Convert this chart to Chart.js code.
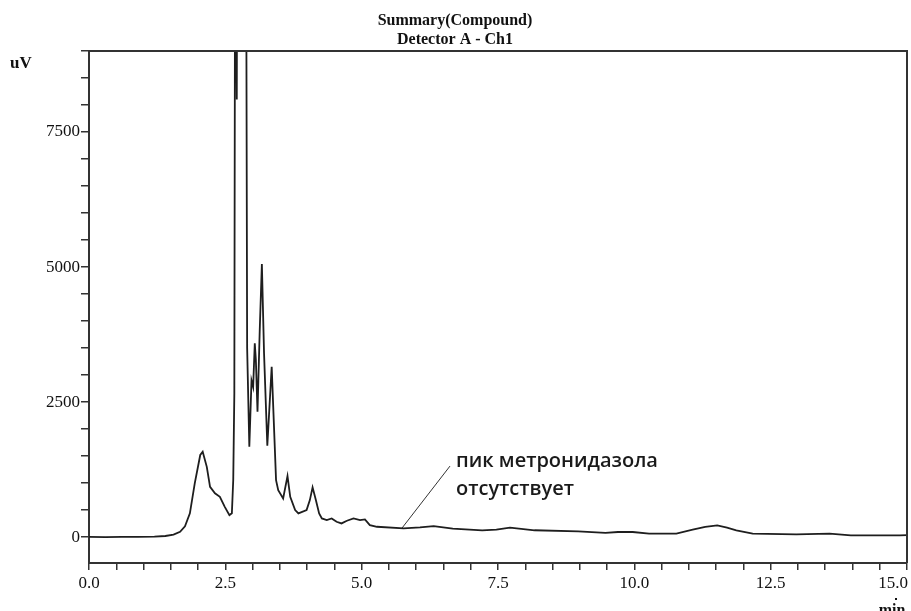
<!DOCTYPE html>
<html>
<head>
<meta charset="utf-8">
<script src="https://cdn.jsdelivr.net/npm/chart.js@4.4.1/dist/chart.umd.min.js"></script>
<style>
  html, body { margin: 0; padding: 0; background: #fff; }
  canvas { display: block; }
</style>
</head>
<body>
<canvas id="chrom" width="911" height="611"></canvas>
<script>
// retention time (min) and detector signal (uV)
const timeMin = [0.00, 0.30, 0.60, 0.90, 1.20, 1.40, 1.55, 1.67, 1.76, 1.85,
  1.94, 2.04, 2.085, 2.16, 2.22, 2.31, 2.40, 2.49, 2.575, 2.62,
  2.645, 2.665, 2.68, 2.71, 2.735, 2.86, 2.90, 2.94, 2.98, 3.01,
  3.04, 3.06, 3.09, 3.13, 3.17, 3.21, 3.27, 3.35, 3.43, 3.47,
  3.56, 3.64, 3.69, 3.78, 3.84, 3.99, 4.05, 4.10, 4.16, 4.22,
  4.27, 4.36, 4.45, 4.54, 4.63, 4.73, 4.85, 4.97, 5.06, 5.15,
  5.28, 5.77, 6.07, 6.32, 6.67, 7.21, 7.47, 7.72, 8.17, 8.97,
  9.47, 9.70, 9.97, 10.27, 10.77, 11.07, 11.30, 11.52, 11.70, 11.87,
  12.17, 12.97, 13.58, 13.97, 14.50, 14.87, 15.00];
const signalUv = [2, 0, 3, 2, 8, 20, 45, 98, 200, 440,
  1000, 1520, 1580, 1300, 930, 810, 746, 560, 407, 440,
  1055, 2660, 12000, 8100, 20000, 20000, 3500, 1672, 2900, 2780,
  3590, 3280, 2320, 3800, 5055, 3400, 1690, 3155, 1055, 870,
  716, 1130, 746, 500, 438, 500, 685, 920, 685, 438,
  346, 315, 346, 283, 253, 302, 346, 315, 327, 222,
  191, 160, 179, 203, 157, 125, 139, 176, 126, 107,
  76, 94, 94, 63, 63, 139, 190, 215, 175, 126,
  63, 50, 63, 31, 30, 31, 35];

// axis ticks
const xTicks = [];
for (let i = 0; i <= 30; i++) xTicks.push(i * 0.5);
const xLabelled = [0, 2.5, 5, 7.5, 10, 12.5];
const xEndLabel = 15;
const yTicks = [];
for (let i = 0; i <= 18; i++) yTicks.push(i * 500);
const yLabelled = [0, 2500, 5000, 7500];

// annotation (leader line in data coords + text anchor)
const leaderX = [5.74, 6.62];
const leaderY = [167, 1315];
const noteLines = ["пик метронидазола", "отсутствует"];
const noteAt = { x: 6.73, y: 1296 };

const titleLines = ["Summary(Compound)", "Detector A - Ch1"];

const ink = "#1e1e1e";

const decorations = {
  id: "decorations",
  afterDraw(chart) {
    const { ctx, chartArea: a, scales } = chart;
    ctx.save();
    // frame top + right
    ctx.strokeStyle = "#333";
    ctx.lineWidth = 2;
    ctx.beginPath();
    ctx.moveTo(a.left, a.top);
    ctx.lineTo(a.right, a.top);
    ctx.lineTo(a.right, a.bottom);
    ctx.stroke();

    ctx.fillStyle = "#111";
    ctx.textAlign = "center";
    ctx.textBaseline = "alphabetic";
    ctx.font = "bold 16px 'Liberation Serif'";
    ctx.fillText(titleLines[0], 455, 25);
    ctx.fillText(titleLines[1], 455, 44);

    ctx.textAlign = "left";
    ctx.font = "bold 17px 'Liberation Serif'";
    ctx.fillText("uV", 10, 68);

    ctx.textAlign = "center";
    ctx.font = "bold 16px 'Liberation Serif'";
    ctx.fillText("min", 892, 615);
    ctx.fillRect(895, 598, 2, 2);

    // last x label sits flush with the axis end
    ctx.textAlign = "right";
    ctx.textBaseline = "top";
    ctx.font = "17px 'Liberation Serif'";
    ctx.fillText(xEndLabel.toFixed(1), scales.x.getPixelForValue(xEndLabel) + 1, a.bottom + 12);

    // annotation text
    const nx = scales.x.getPixelForValue(noteAt.x);
    const ny = scales.y.getPixelForValue(noteAt.y);
    ctx.textAlign = "left";
    ctx.textBaseline = "alphabetic";
    ctx.fillStyle = "#1a1a1a";
    ctx.font = "600 20px 'Open Sans'";
    ctx.fillText(noteLines[0], nx, ny);
    ctx.fillText(noteLines[1], nx, ny + 28);
    ctx.restore();
  }
};

new Chart(document.getElementById("chrom"), {
  type: "line",
  data: {
    datasets: [
      {
        data: timeMin.map((t, i) => ({ x: t, y: signalUv[i] })),
        borderColor: ink, borderWidth: 1.8, pointRadius: 0, tension: 0, fill: false
      },
      {
        data: leaderX.map((t, i) => ({ x: t, y: leaderY[i] })),
        borderColor: "#333", borderWidth: 1, pointRadius: 0, tension: 0, fill: false
      }
    ]
  },
  options: {
    responsive: false,
    animation: false,
    devicePixelRatio: 1,
    layout: { padding: { top: 51, right: 4, left: 0, bottom: 0 } },
    plugins: { legend: { display: false }, tooltip: { enabled: false }, title: { display: false } },
    scales: {
      x: {
        type: "linear", min: 0, max: 15,
        afterBuildTicks: s => { s.ticks = xTicks.map(v => ({ value: v })); },
        afterFit: s => { s.height = 48; s.paddingLeft = 0; s.paddingRight = 0; },
        border: { display: true, color: "#333", width: 2 },
        grid: { drawOnChartArea: false, drawTicks: true, tickLength: 7, color: "#333", lineWidth: 1.5 },
        ticks: {
          autoSkip: false, maxRotation: 0, padding: 3, color: "#111",
          font: { family: "'Liberation Serif'", size: 17 },
          callback: v => xLabelled.some(l => Math.abs(l - v) < 1e-6) ? v.toFixed(1) : ""
        }
      },
      y: {
        type: "linear", min: -480, max: 9000,
        afterBuildTicks: s => { s.ticks = yTicks.map(v => ({ value: v })); },
        afterFit: s => { s.width = 89; s.paddingTop = 0; s.paddingBottom = 0; },
        border: { display: true, color: "#333", width: 2 },
        grid: { drawOnChartArea: false, drawTicks: true, tickLength: 8, color: "#333", lineWidth: 1.5 },
        ticks: {
          autoSkip: false, padding: 1, color: "#111",
          font: { family: "'Liberation Serif'", size: 17 },
          callback: v => yLabelled.includes(v) ? String(v) : ""
        }
      }
    }
  },
  plugins: [decorations]
});
</script>
</body>
</html>
